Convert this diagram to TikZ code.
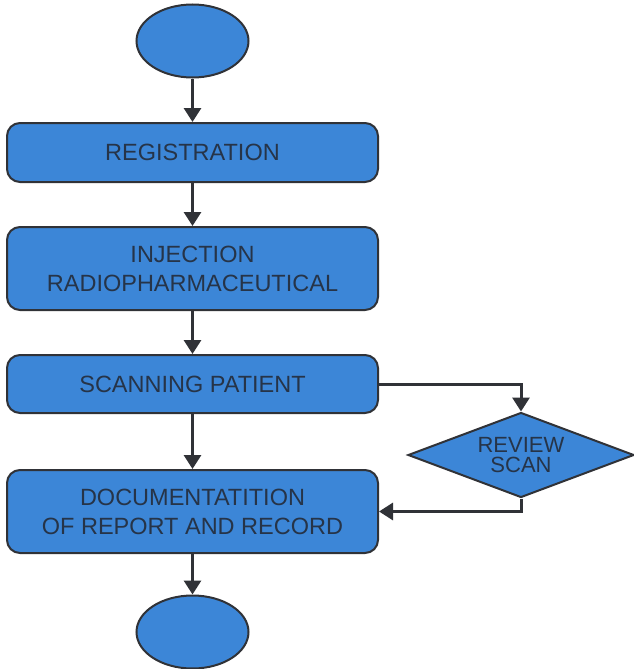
\documentclass[tikz,border=0pt]{standalone}
\usepackage{fontspec}
\setmainfont{Liberation Sans}
\usetikzlibrary{shapes.geometric,arrows.meta}
\definecolor{boxblue}{RGB}{60,134,215}
\definecolor{edgegray}{RGB}{48,50,55}
\definecolor{txtgray}{RGB}{38,52,72}
\tikzset{
  procbox/.style={draw=edgegray, line width=2pt, fill=boxblue, rounded corners=13pt,
    minimum width=371pt, inner sep=0pt, align=center, text=txtgray,
    font=\fontsize{23.5}{29}\selectfont},
  term/.style={ellipse, draw=edgegray, line width=2pt, fill=boxblue,
    minimum width=112pt, minimum height=73pt, inner sep=0pt},
  decide/.style={diamond, draw=edgegray, line width=2pt, fill=boxblue,
    aspect=2.7, minimum width=226pt, minimum height=85pt, inner sep=0pt,
    align=center, text=txtgray, font=\fontsize{22}{20}\selectfont},
  flow/.style={draw=edgegray, line width=3pt,
    -{Triangle[width=17pt,length=14pt]}}
}
\begin{document}
\begin{tikzpicture}[x=1pt,y=-1pt]
\useasboundingbox[fill=white] (0,0) rectangle (634,669);
\node[term] (start) at (192.5,41) {};
\node[procbox, minimum height=59pt] (reg) at (192.5,152.5) {REGISTRATION};
\node[procbox, minimum height=83pt] (inj) at (192.5,268.5) {INJECTION\\RADIOPHARMACEUTICAL};
\node[procbox, minimum height=58pt] (scan) at (192.5,384) {SCANNING PATIENT};
\node[procbox, minimum height=83pt] (doc) at (192.5,511.5) {DOCUMENTATITION\\OF REPORT AND RECORD};
\node[term] (stop) at (192.5,632) {};
\node[decide] (rev) at (521,455) {REVIEW\\SCAN};
\draw[flow] (start) -- (reg);
\draw[flow] (reg) -- (inj);
\draw[flow] (inj) -- (scan);
\draw[flow] (scan) -- (doc);
\draw[flow] (doc) -- (stop);
\draw[flow] (scan.east) -| (rev.north);
\draw[flow] (rev.south) |- (doc.east);
\end{tikzpicture}
\end{document}
